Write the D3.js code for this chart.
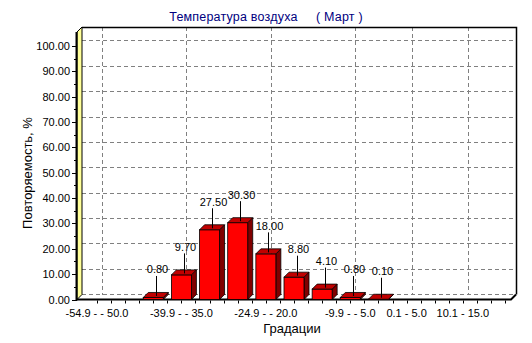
<!DOCTYPE html>
<html>
<head>
<meta charset="utf-8">
<script src="https://cdn.jsdelivr.net/npm/d3@7"></script>
<style>
  html, body { margin: 0; padding: 0; background: #fff; }
  svg text { font-family: "Liberation Sans", Arial, sans-serif; }
</style>
</head>
<body>
<svg id="chart" width="532" height="343"></svg>
<script>
// Temperature gradations (°C) and their frequency of occurrence, %
const categories = [
  "-54.9 - - 50.0", "-49.9 - - 45.0", "-44.9 - - 40.0", "-39.9 - - 35.0",
  "-34.9 - - 30.0", "-29.9 - - 25.0", "-24.9 - - 20.0", "-19.9 - - 15.0",
  "-14.9 - - 10.0", "-9.9 - - 5.0", "-4.9 - 0.0", "0.1 - 5.0",
  "5.1 - 10.0", "10.1 - 15.0", "15.1 - 20.0"
];
const values = [0, 0, 0.8, 9.7, 27.5, 30.3, 18.0, 8.8, 4.1, 0.8, 0.1, 0, 0, 0, 0];
// categories whose names fit on the axis
const labelledCategories = ["-54.9 - - 50.0", "-39.9 - - 35.0", "-24.9 - - 20.0",
  "-9.9 - - 5.0", "0.1 - 5.0", "10.1 - 15.0"];
const yTicks = [0, 10, 20, 30, 40, 50, 60, 70, 80, 90, 100];

const titleText = "Температура воздуха     ( Март )";
const xTitle = "Градации";
const yTitle = "Повторяемость, %";

// front plane of the 3D box and depth offset
const front = { left: 77, right: 511, top: 32, bottom: 299.5 };
const DX = 5, DY = -5;

const svg = d3.select("#chart");

const x = d3.scalePoint().domain(categories).range([front.left, front.right]).padding(0.71);
const y = d3.scaleLinear().domain([0, 105.5]).range([front.bottom, front.top]);
const barW = 20;

// ---- back wall: grid ----
const back = svg.append("g");
back.selectAll("line.hgrid").data(yTicks).join("line")
  .attr("x1", front.left + DX).attr("x2", front.right + DX)
  .attr("y1", d => y(d) + DY).attr("y2", d => y(d) + DY)
  .attr("stroke", "#808080").attr("stroke-dasharray", "4,3").attr("shape-rendering", "crispEdges");
back.selectAll("line.vgrid").data(labelledCategories).join("line")
  .attr("x1", d => Math.round(x(d) + DX) + 0.5).attr("x2", d => Math.round(x(d) + DX) + 0.5)
  .attr("y1", front.top + DY).attr("y2", front.bottom + DY)
  .attr("stroke", "#808080").attr("stroke-dasharray", "4,3").attr("shape-rendering", "crispEdges");

// back wall frame (top and right)
back.append("path")
  .attr("d", `M${front.left + DX},${front.top + DY + 0.5} H${front.right + DX + 0.5} V${front.bottom + DY}`)
  .attr("fill", "none").attr("stroke", "#000").attr("stroke-width", 1.5);

// ---- left wall (yellow) ----
svg.append("path")
  .attr("d", `M${front.left},${front.top} L${front.left + DX},${front.top + DY} L${front.left + DX},${front.bottom + DY} L${front.left},${front.bottom} Z`)
  .attr("fill", "#ffff99").attr("stroke", "#000").attr("stroke-width", 1);
svg.append("line")
  .attr("x1", front.left - 0.5).attr("x2", front.left - 0.5)
  .attr("y1", front.top).attr("y2", front.bottom + 1)
  .attr("stroke", "#000").attr("stroke-width", 2);

// ---- floor edges ----
svg.append("path")
  .attr("d", `M${front.left - 1},${front.bottom} H${front.right} L${front.right + DX},${front.bottom + DY}`)
  .attr("fill", "none").attr("stroke", "#000").attr("stroke-width", 2);

// ---- bars ----
const bars = svg.append("g").selectAll("g.bar")
  .data(categories.map((c, i) => ({ c, v: values[i] })).filter(d => d.v > 0))
  .join("g");

bars.each(function (d) {
  const g = d3.select(this);
  const x0 = x(d.c) - barW / 2, x1 = x(d.c) + barW / 2;
  const yt = y(d.v), yb = y(0);
  // side face
  g.append("path")
    .attr("d", `M${x1},${yt} L${x1 + DX},${yt + DY} L${x1 + DX},${yb + DY} L${x1},${yb} Z`)
    .attr("fill", "#800000").attr("stroke", "#000").attr("stroke-width", 0.8);
  // front face
  g.append("rect")
    .attr("x", x0).attr("y", yt).attr("width", barW).attr("height", Math.max(0, yb - yt))
    .attr("fill", "#ff0000").attr("stroke", "#000").attr("stroke-width", 0.8);
  // top face
  g.append("path")
    .attr("d", `M${x0},${yt} L${x0 + DX},${yt + DY} L${x1 + DX},${yt + DY} L${x1},${yt} Z`)
    .attr("fill", "#c00000").attr("stroke", "#000").attr("stroke-width", 0.8);
});

// ---- value callouts ----
const fmt = d3.format(".2f");
bars.each(function (d) {
  const g = d3.select(this);
  const cx = Math.round(x(d.c) + DX / 2) + 0.5;
  const yt = y(d.v);
  g.append("line")
    .attr("x1", cx).attr("x2", cx)
    .attr("y1", yt - 1.5).attr("y2", yt - 21.5)
    .attr("stroke", "#000").attr("stroke-width", 1);
  g.append("text")
    .attr("x", cx + 1).attr("y", yt - 24)
    .attr("text-anchor", "middle").attr("font-size", 11).attr("fill", "#000")
    .text(fmt(d.v));
});

// ---- Y axis ticks and labels (front edge) ----
const yAxis = svg.append("g");
yAxis.selectAll("line.major").data(yTicks).join("line")
  .attr("x1", front.left - 5).attr("x2", front.left)
  .attr("y1", d => Math.round(y(d)) + 0.5).attr("y2", d => Math.round(y(d)) + 0.5)
  .attr("stroke", "#000");
yAxis.selectAll("line.minor").data(d3.range(5, 100, 10)).join("line")
  .attr("x1", front.left - 3).attr("x2", front.left)
  .attr("y1", d => Math.round(y(d)) + 0.5).attr("y2", d => Math.round(y(d)) + 0.5)
  .attr("stroke", "#000");
yAxis.selectAll("text").data(yTicks).join("text")
  .attr("x", 70).attr("y", d => y(d) + 4)
  .attr("text-anchor", "end").attr("font-size", 11).attr("fill", "#000")
  .text(d => fmt(d));

// ---- X axis ticks and labels ----
const xAxis = svg.append("g");
const step = x.step();
const halfTicks = [];
categories.forEach(c => { halfTicks.push(x(c)); halfTicks.push(x(c) + step / 2); });
xAxis.selectAll("line.tick").data(halfTicks.filter(v => v < front.right)).join("line")
  .attr("x1", v => Math.round(v) + 0.5).attr("x2", v => Math.round(v) + 0.5)
  .attr("y1", front.bottom + 1).attr("y2", front.bottom + 4)
  .attr("stroke", "#000");
xAxis.selectAll("text").data(labelledCategories).join("text")
  .attr("x", d => x(d)).attr("y", 317)
  .attr("text-anchor", "middle").attr("font-size", 11).attr("fill", "#000")
  .text(d => d);

// ---- titles ----
svg.append("text")
  .attr("x", 266).attr("y", 21)
  .attr("text-anchor", "middle").attr("font-size", 12.5).attr("letter-spacing", 0.2)
  .attr("fill", "#000080")
  .style("white-space", "pre")
  .text(titleText);
svg.append("text")
  .attr("x", 292).attr("y", 333)
  .attr("text-anchor", "middle").attr("font-size", 13).attr("fill", "#000")
  .text(xTitle);
svg.append("text")
  .attr("transform", "translate(31.5,173) rotate(-90)")
  .attr("text-anchor", "middle").attr("font-size", 13).attr("fill", "#000")
  .text(yTitle);
</script>
</body>
</html>
